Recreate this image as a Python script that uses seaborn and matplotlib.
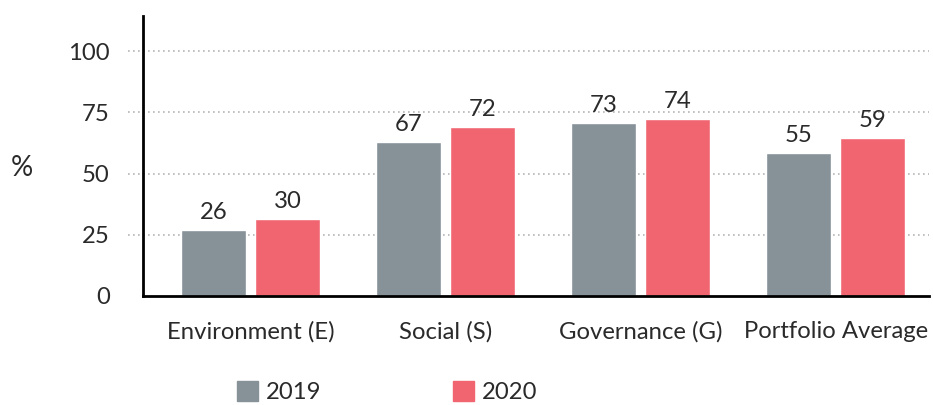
import matplotlib
matplotlib.use("Agg")
import matplotlib.pyplot as plt
import matplotlib.patches as mpatches
import seaborn as sns
import pandas as pd

categories = ["Environment (E)", "Social (S)", "Governance (G)", "Portfolio Average"]
years = ["2019", "2020"]
# bar heights as drawn in the reference
bars_2019 = [26.8, 62.7, 70.5, 58.2]
bars_2020 = [31.3, 68.9, 72.1, 64.4]
# value labels as printed in the reference
labels_2019 = ["26", "67", "73", "55"]
labels_2020 = ["30", "72", "74", "59"]
yticks = [0, 25, 50, 75, 100]

colors = {"2019": "#869198", "2020": "#F16570"}
txt = "#2a2a2a"
fs = 17.2

df = pd.DataFrame({
    "category": categories * 2,
    "year": [years[0]] * 4 + [years[1]] * 4,
    "value": bars_2019 + bars_2020,
})

sns.set_theme(style="white")
plt.rcParams["font.family"] = ["Lato", "DejaVu Sans"]

fig = plt.figure(figsize=(9.33, 4.05), dpi=100)
ax = fig.add_axes([143 / 933, 1 - 296 / 405, (929 - 143) / 933, (296 - 16) / 405])

sns.barplot(data=df, x="category", y="value", hue="year", palette=colors,
            width=0.759, gap=0.1216, saturation=1, ax=ax, legend=False, zorder=3)

ax.set_xlim(-0.551, 3.479)
ax.set_ylim(0, 114.3)

# dotted gridlines extending slightly left of the axis
for y in yticks[1:]:
    ax.plot([-0.628, 3.479], [y, y], linestyle=(0, (1, 2)), color="#b5b5b5",
            linewidth=1.2, clip_on=False, zorder=1)

for s in ["top", "right"]:
    ax.spines[s].set_visible(False)
for s in ["left", "bottom"]:
    ax.spines[s].set_color("black")
    ax.spines[s].set_linewidth(2)
    ax.spines[s].set_zorder(4)

ax.set_yticks(yticks)
ax.set_yticklabels([str(t) for t in yticks])
ax.tick_params(axis="y", length=0, pad=24, labelsize=fs, labelcolor=txt)
ax.tick_params(axis="x", length=0, pad=18, labelsize=fs, labelcolor=txt)
ax.set_xlabel("")
ax.set_ylabel("")
ax.grid(False)

# value labels
for container, labs in zip(ax.containers, [labels_2019, labels_2020]):
    for bar, lab in zip(container, labs):
        ax.annotate(lab, (bar.get_x() + bar.get_width() / 2, bar.get_height()),
                    xytext=(0, 8), textcoords="offset points", ha="center",
                    va="baseline", fontsize=fs, color=txt)

fig.text(22 / 933, 1 - 168 / 405, "%", fontsize=20, color=txt, ha="center", va="center")

handles = [mpatches.Patch(color=colors[y], label=y) for y in years]
fig.legend(handles=handles, loc="center left", bbox_to_anchor=(237 / 933, 1 - 392 / 405),
           ncol=2, frameon=False, fontsize=fs, labelcolor=txt, handlelength=0.88,
           handleheight=0.88, handletextpad=0.33, columnspacing=5.5,
           borderpad=0, borderaxespad=0)

fig.savefig("out.png", dpi=100)
